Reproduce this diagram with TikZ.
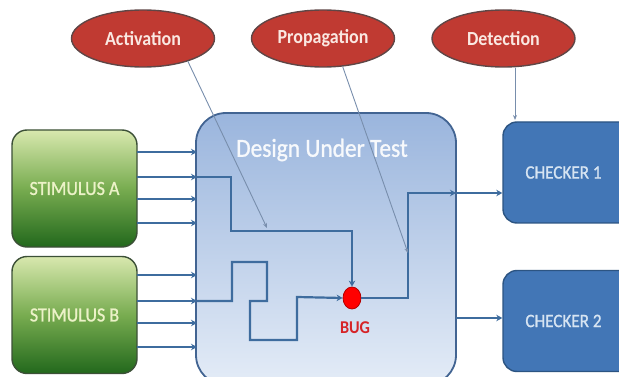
\documentclass[tikz,border=0pt]{standalone}
\usepackage{fontspec}
\setmainfont{Carlito}
\newfontfamily\lbl[FakeStretch=0.9]{Carlito}
\newfontfamily\lblm[FakeStretch=0.9,FakeBold=1]{Carlito}
\usetikzlibrary{shapes.geometric,arrows.meta}
\definecolor{wirec}{RGB}{62,108,158}
\definecolor{notec}{RGB}{120,142,172}
\definecolor{ellfill}{RGB}{192,58,50}
\definecolor{elldraw}{RGB}{95,70,70}
\definecolor{elltext}{RGB}{250,232,226}
\definecolor{chkfill}{RGB}{66,118,182}
\definecolor{chkdraw}{RGB}{44,84,130}
\definecolor{chktext}{RGB}{214,228,242}
\definecolor{duttop}{RGB}{154,181,221}
\definecolor{dutbot}{RGB}{228,236,247}
\definecolor{dutdraw}{RGB}{66,100,146}
\definecolor{stimtop}{RGB}{216,232,174}
\definecolor{stimmid}{RGB}{120,172,80}
\definecolor{stimbot}{RGB}{34,104,28}
\definecolor{stimdraw}{RGB}{60,80,55}
\definecolor{stimtext}{RGB}{236,242,200}
\definecolor{bugred}{RGB}{214,36,40}
\begin{document}
\begin{tikzpicture}[x=1pt,y=-1pt,
  phase/.style={ellipse, draw=elldraw, line width=1.4pt, fill=ellfill,
    minimum width=143pt, minimum height=57pt, inner sep=0pt,
    text=elltext, font=\lbl\bfseries\fontsize{20}{22}\selectfont},
  stimbox/.style={rectangle, rounded corners=15pt, draw=stimdraw, line width=1.4pt,
    top color=stimtop, bottom color=stimbot, middle color=stimmid,
    minimum width=125pt, minimum height=117pt, inner sep=0pt,
    text=stimtext, font=\lblm\fontsize{20}{22}\selectfont},
  chkbox/.style={rectangle, rounded corners=14pt, draw=chkdraw, line width=1.4pt,
    fill=chkfill, minimum width=130pt, minimum height=101pt, inner sep=0pt,
    text=chktext, font=\lblm\fontsize{19}{21}\selectfont},
  wire/.style={draw=wirec, line width=2.2pt},
  arr/.style={wire, -{Stealth[length=6pt,width=6.5pt]}},
  note/.style={draw=notec, line width=0.9pt, -{Stealth[length=5pt,width=4pt]}}
]
\useasboundingbox (0,0) rectangle (619,377);
\clip (0,0) rectangle (619,377);

% Design under test
\node[rectangle, rounded corners=30pt, draw=dutdraw, line width=1.8pt,
  top color=duttop, bottom color=dutbot, minimum width=260pt, minimum height=272pt,
  inner sep=0pt] (dut) at (326,249) {};
\node[text=white!92!duttop, font=\lblm\fontsize{26}{28}\selectfont] (dutlabel) at (322,150) {Design Under Test};

% stimulus boxes
\node[stimbox] (stimA) at (74.5,188.5) {STIMULUS A};
\node[stimbox] (stimB) at (74.5,315) {STIMULUS B};

% checkers
\node[chkbox] (chk1) at (568,172.5) {\hspace*{-9pt}CHECKER 1};
\node[chkbox] (chk2) at (568,321) {\hspace*{-9pt}CHECKER 2};

% phases
\node[phase] (act) at (143,38.5) {Activation};
\node[phase] (prop) at (323,38.5) {Propagation};
\node[phase] (det) at (503.5,38.5) {Detection};

% bug
\node[ellipse, draw=red!70!black, line width=0.8pt, fill=red, minimum width=18pt, minimum height=22pt, inner sep=0pt] (bug) at (352,298) {};
\node[text=bugred, font=\lbl\bfseries\fontsize{18}{20}\selectfont] (buglabel) at (355,328) {BUG};

% stimulus inputs
\foreach \y in {152,177,199,223} \draw[arr] (137,\y) -- (197,\y);
\foreach \y in {275,301,323,347} \draw[arr] (137,\y) -- (197,\y);

% activation path from stimulus A
\draw[arr] (197,177) -- (231,177) -- (231,231) -- (352,231) -- (bug.north);
% path from stimulus B
\draw[arr] (197,301) -- (232,301) -- (232,262) -- (267,262) -- (267,301)
  -- (250,301) -- (250,340) -- (297,340) -- (297,297) -- (bug.west);
% propagation path
\draw[arr] (bug.east) -- (408,298) -- (408,193) -- (456,193);
\draw[arr] (456,193) -- (chk1.west |- 0,193);
\draw[arr] (456,318) -- (chk2.west |- 0,318);

% annotation arrows
\coordinate (actTip) at (267,228);
\coordinate (propTip) at (408,253);
\draw[note] (act.-27) -- (actTip);
\draw[note] (prop.-55) -- (propTip);
\draw[note] (det.south -| 515,0) -- (515,120);
\end{tikzpicture}
\end{document}
